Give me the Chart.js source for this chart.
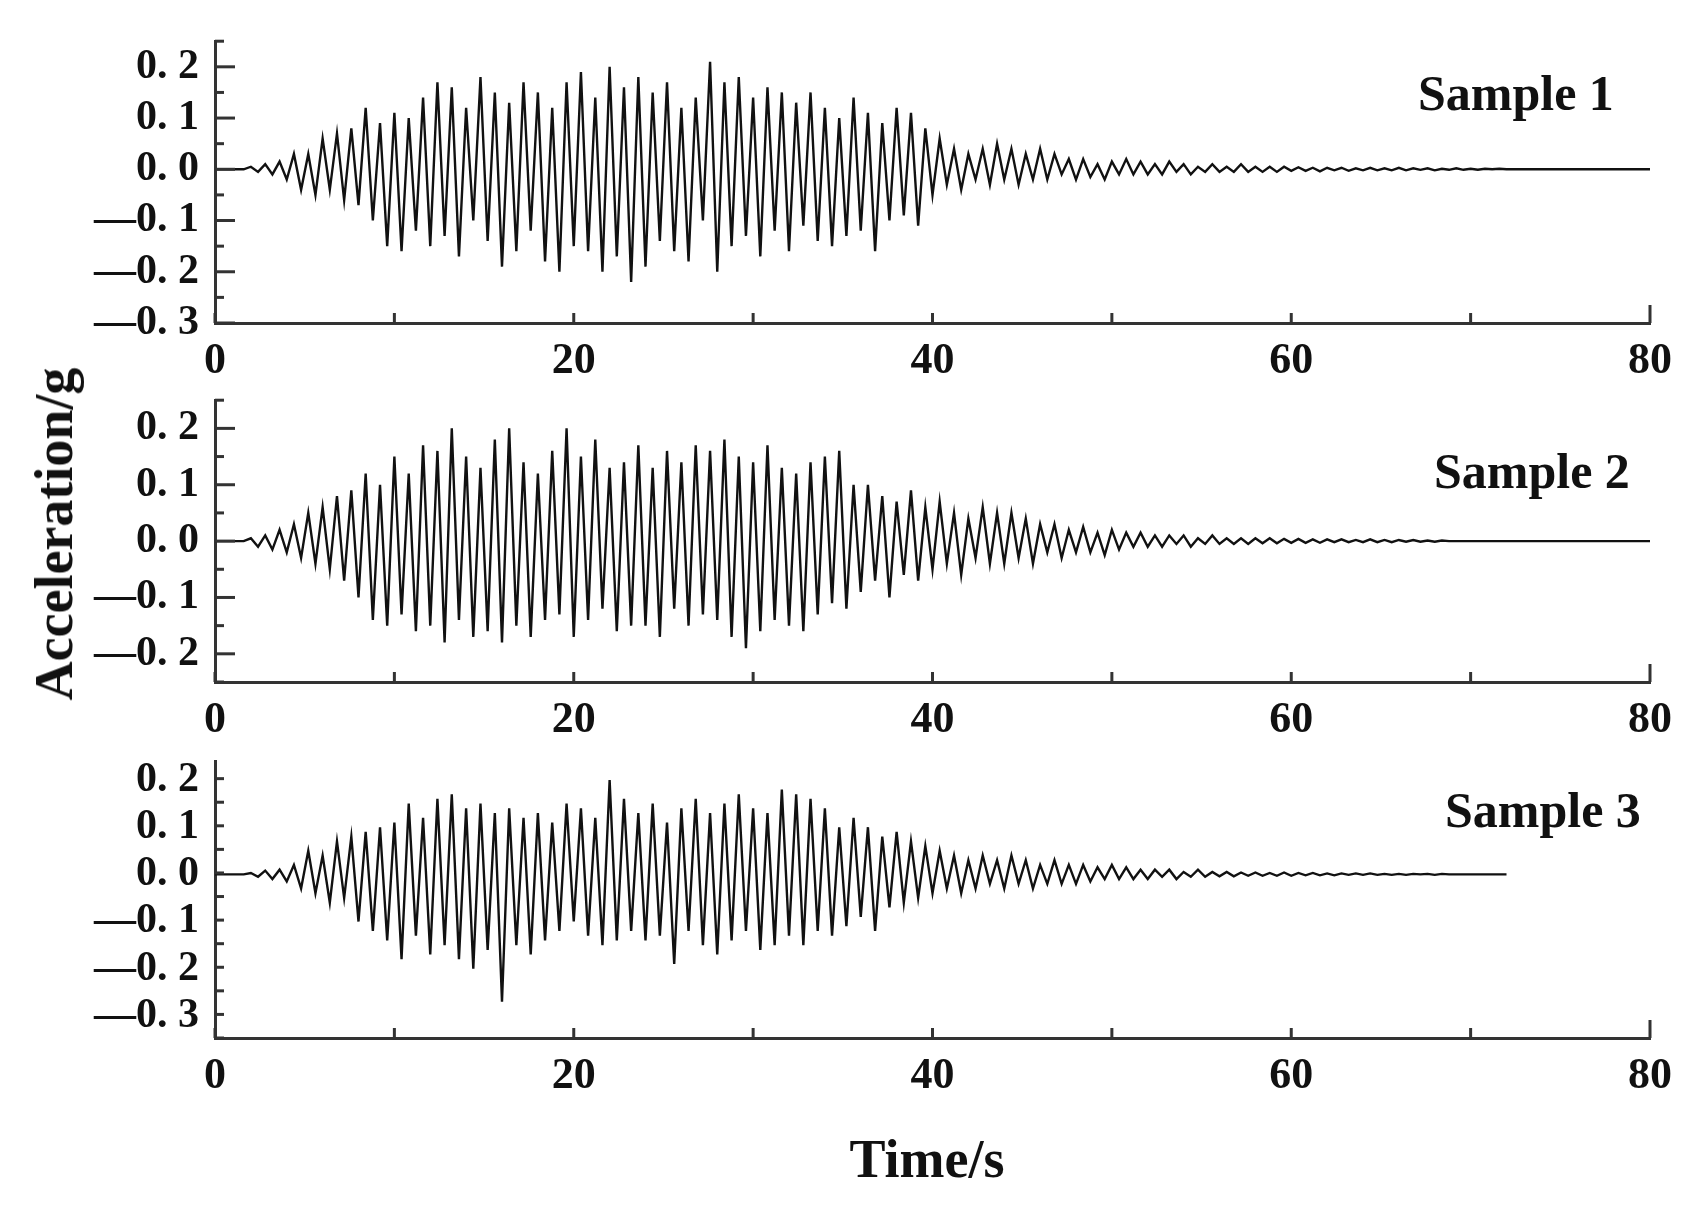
<!DOCTYPE html>
<html>
<head>
<meta charset="utf-8">
<script src="https://cdn.jsdelivr.net/npm/chart.js@4.4.1/dist/chart.umd.min.js"></script>
<style>
  body { margin:0; width:1691px; height:1208px; background:#fff; position:relative; overflow:hidden; }
  canvas { position:absolute; left:0; }
  .lbl { position:absolute; font-family:"Liberation Serif",serif; font-weight:bold; color:#111; white-space:nowrap; }
</style>
</head>
<body>
<canvas id="c1" style="top:0px"></canvas>
<canvas id="c2" style="top:359px"></canvas>
<canvas id="c3" style="top:720px"></canvas>
<div class="lbl" style="left:1418px;top:64px;font-size:50px">Sample 1</div>
<div class="lbl" style="left:1434px;top:442px;font-size:50px">Sample 2</div>
<div class="lbl" style="left:1445px;top:781px;font-size:50px">Sample 3</div>
<div class="lbl" style="left:54px;top:534px;font-size:54px;transform:translate(-50%,-50%) rotate(-90deg)">Acceleration/g</div>
<div class="lbl" style="left:927px;top:1159px;font-size:54px;transform:translate(-50%,-50%)">Time/s</div>
<script>
// sample step 0.4 s, 200 samples per record
const STEP = 0.4;
const xTicks = [0, 10, 20, 30, 40, 50, 60, 70, 80];
const yTicks1 = [0.2, 0.1, 0.0, -0.1, -0.2, -0.3];
const yTicks2 = [0.2, 0.1, 0.0, -0.1, -0.2];
const yTicks3 = [0.2, 0.1, 0.0, -0.1, -0.2, -0.3];

const sample1 = [
  0,0,0,0,0,.005,-.005,.01,-.01,.015,
  -.02,.03,-.04,.03,-.05,.06,-.04,.07,-.06,.08,
  -.07,.12,-.1,.09,-.15,.11,-.16,.1,-.12,.14,
  -.15,.17,-.13,.16,-.17,.12,-.1,.18,-.14,.15,
  -.19,.13,-.16,.17,-.12,.15,-.18,.12,-.2,.17,
  -.15,.19,-.16,.14,-.2,.2,-.17,.16,-.22,.18,
  -.19,.15,-.14,.17,-.16,.12,-.18,.14,-.1,.21,
  -.2,.17,-.15,.18,-.13,.14,-.17,.16,-.12,.15,
  -.16,.13,-.11,.15,-.14,.12,-.15,.1,-.13,.14,
  -.12,.11,-.16,.09,-.1,.12,-.09,.11,-.11,.08,
  -.05,.06,-.03,.04,-.04,.03,-.02,.04,-.03,.05,
  -.02,.04,-.03,.03,-.02,.04,-.02,.03,-.01,.02,
  -.02,.02,-.015,.01,-.02,.015,-.01,.02,-.01,.015,
  -.01,.01,-.01,.015,-.005,.01,-.01,.005,-.005,.01,
  -.005,.005,-.005,.01,-.005,.005,-.005,.005,-.005,.005,
  -.003,.004,-.003,.003,-.004,.003,-.002,.003,-.003,.002,
  -.002,.003,-.002,.002,-.002,.003,-.002,.002,-.001,.002,
  -.002,.001,-.001,.002,-.001,.001,-.001,.001,0,.001,
  0,0,0,0,0,0,0,0,0,0,
  0,0,0,0,0,0,0,0,0,0,0
];
const sample2 = [
  0,0,0,0,0,.005,-.01,.01,-.015,.02,
  -.02,.03,-.03,.05,-.04,.06,-.05,.08,-.07,.09,
  -.1,.12,-.14,.1,-.15,.15,-.13,.12,-.16,.17,
  -.15,.16,-.18,.2,-.14,.15,-.17,.13,-.16,.18,
  -.18,.2,-.15,.14,-.17,.12,-.14,.16,-.13,.2,
  -.17,.15,-.14,.18,-.12,.13,-.16,.14,-.15,.17,
  -.15,.13,-.17,.16,-.12,.14,-.15,.17,-.13,.16,
  -.14,.18,-.17,.15,-.19,.14,-.16,.17,-.14,.13,
  -.15,.12,-.16,.14,-.13,.15,-.11,.16,-.12,.1,
  -.09,.1,-.07,.08,-.1,.07,-.06,.09,-.07,.06,
  -.05,.07,-.04,.05,-.06,.04,-.03,.06,-.04,.05,
  -.04,.05,-.03,.04,-.04,.03,-.02,.03,-.03,.02,
  -.02,.025,-.02,.015,-.025,.02,-.015,.015,-.01,.015,
  -.01,.01,-.01,.01,-.005,.01,-.01,.005,-.005,.01,
  -.005,.005,-.005,.005,-.005,.005,-.004,.005,-.004,.004,
  -.003,.004,-.003,.003,-.003,.003,-.002,.003,-.002,.002,
  -.002,.003,-.002,.002,-.002,.002,-.001,.002,-.001,.001,
  -.001,.001,0,0,0,0,0,0,0,0,
  0,0,0,0,0,0,0,0,0,0,
  0,0,0,0,0,0,0,0,0,0,0
];
const sample3 = [
  0,0,0,0,0,.003,-.005,.008,-.01,.01,
  -.015,.02,-.03,.05,-.04,.04,-.06,.07,-.05,.08,
  -.1,.09,-.12,.1,-.14,.11,-.18,.15,-.13,.12,
  -.17,.16,-.15,.17,-.18,.14,-.2,.15,-.16,.13,
  -.27,.14,-.15,.12,-.17,.13,-.14,.11,-.12,.15,
  -.1,.14,-.13,.12,-.15,.2,-.14,.16,-.12,.13,
  -.14,.15,-.13,.11,-.19,.14,-.12,.16,-.15,.13,
  -.17,.15,-.14,.17,-.12,.14,-.16,.13,-.15,.18,
  -.13,.17,-.15,.16,-.12,.14,-.13,.1,-.11,.12,
  -.09,.1,-.12,.08,-.07,.09,-.06,.07,-.05,.06,
  -.04,.05,-.03,.04,-.04,.03,-.03,.04,-.02,.03,
  -.03,.04,-.02,.03,-.03,.02,-.02,.03,-.02,.02,
  -.02,.02,-.015,.015,-.01,.02,-.01,.015,-.01,.01,
  -.01,.01,-.005,.01,-.01,.005,-.005,.01,-.005,.005,
  -.004,.005,-.004,.004,-.003,.004,-.003,.003,-.003,.004,
  -.003,.003,-.002,.003,-.002,.002,-.002,.002,-.001,.002,
  -.001,.002,-.001,.001,-.001,.001,-.001,.001,0,.001,
  -.001,.001,0,0,0,0,0,0,0,0,
  0,null,null,null,null,null,null,null,null,null,
  null,null,null,null,null,null,null,null,null,null,null
];

const SERIF = '"Liberation Serif", "DejaVu Serif", serif';
const fmtY = v => {
  const s = Math.abs(v).toFixed(1).replace('.', '. ');
  return (v < -1e-9 ? '\u2014' : '') + s;
};

// draws the inward tick marks through the chart's own scales
const inwardTicks = {
  id: 'inwardTicks',
  afterDraw(chart, args, opts) {
    const { ctx, chartArea: a, scales: { x, y } } = chart;
    ctx.save();
    ctx.strokeStyle = '#333';
    ctx.lineWidth = 3;
    for (let v = opts.ymin; v <= opts.ymax + 1e-9; v += 0.05) {
      const py = y.getPixelForValue(v);
      const major = Math.abs(Math.round(v * 10) - v * 10) < 1e-6;
      ctx.beginPath(); ctx.moveTo(a.left, py); ctx.lineTo(a.left + (major ? 20 : 9), py); ctx.stroke();
    }
    xTicks.forEach(v => {
      const px = x.getPixelForValue(v);
      const len = (v === 80) ? 18 : 10;
      ctx.beginPath(); ctx.moveTo(px, a.bottom); ctx.lineTo(px, a.bottom - len); ctx.stroke();
    });
    ctx.restore();
  }
};

function makePanel(id, values, ymin, ymax, yTicks, height) {
  const cv = document.getElementById(id);
  cv.width = 1691; cv.height = height;
  cv.style.width = '1691px'; cv.style.height = height + 'px';
  const pts = values.map((v, i) => ({ x: i * STEP, y: v }));
  new Chart(cv, {
    type: 'line',
    data: { datasets: [{ data: pts, borderColor: '#111', borderWidth: 2.4, pointRadius: 0, tension: 0, spanGaps: false }] },
    plugins: [inwardTicks],
    options: {
      responsive: false, animation: false, devicePixelRatio: 1,
      layout: { padding: { top: 35, right: 41, left: 0, bottom: 0 } },
      plugins: { legend: { display: false }, tooltip: { enabled: false }, inwardTicks: { ymin, ymax } },
      scales: {
        x: {
          type: 'linear', min: 0, max: 80,
          afterBuildTicks: s => { s.ticks = [0, 20, 40, 60, 80].map(v => ({ value: v })); },
          afterFit: s => { s.height = 70; },
          grid: { drawOnChartArea: false, drawTicks: false },
          border: { display: true, color: '#333', width: 3 },
          ticks: { padding: 12, autoSkip: false, maxRotation: 0, color: '#111', font: { family: SERIF, size: 44, weight: 'bold' } }
        },
        y: {
          type: 'linear', min: ymin, max: ymax,
          afterBuildTicks: s => { s.ticks = yTicks.map(v => ({ value: v })); },
          afterFit: s => { s.width = 215; },
          grid: { drawOnChartArea: false, drawTicks: false },
          border: { display: true, color: '#333', width: 3 },
          ticks: { padding: 16, autoSkip: false, color: '#111', callback: v => fmtY(v), font: { family: SERIF, size: 42, weight: 'bold' } }
        }
      }
    }
  });
}

makePanel('c1', sample1, -0.3, 0.25, yTicks1, 393);
makePanel('c2', sample2, -0.25, 0.25, yTicks2, 393);
makePanel('c3', sample3, -0.347, 0.24, yTicks3, 388);
</script>
</body>
</html>
